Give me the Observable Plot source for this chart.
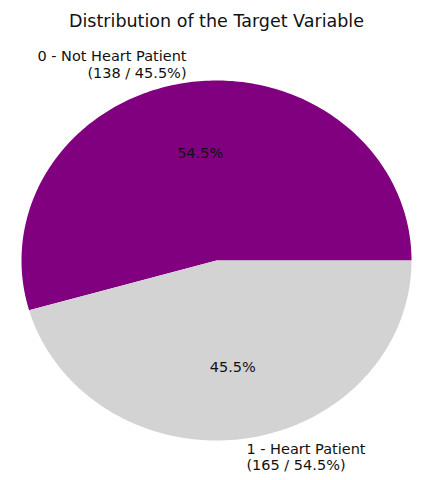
<!DOCTYPE html>
<html>
<head>
<meta charset="utf-8">
<script src="https://cdn.jsdelivr.net/npm/d3@7"></script>
<script src="https://cdn.jsdelivr.net/npm/@observablehq/plot@0.6"></script>
<style>
  html, body { margin: 0; padding: 0; background: #fff; }
  svg { font-family: "DejaVu Sans", sans-serif; }
</style>
</head>
<body>
<div id="chart"></div>
<script>
// Data
const chartTitle = "Distribution of the Target Variable";
const sliceColors = ["#800080", "#d3d3d3"];
const sliceValues = [165, 138];              // drawn wedge sizes (purple, grey)
const labelNames = ["0 - Not Heart Patient", "1 - Heart Patient"];
const labelCounts = [138, 165];               // counts shown in the outer labels

const total = d3.sum(sliceValues);
const labelTotal = d3.sum(labelCounts);

// Wedge angles (counter-clockwise from 3 o'clock, like matplotlib)
let acc = 0;
const slices = sliceValues.map((v, i) => {
  const a0 = acc / total * 2 * Math.PI;
  acc += v;
  const a1 = acc / total * 2 * Math.PI;
  return {i, v, a0, a1, mid: (a0 + a1) / 2};
});

const pts = [];
for (const s of slices) {
  pts.push({i: s.i, x: 0, y: 0});
  const n = 200;
  for (let k = 0; k <= n; k++) {
    const a = s.a0 + (s.a1 - s.a0) * k / n;
    pts.push({i: s.i, x: Math.cos(a), y: Math.sin(a)});
  }
  pts.push({i: s.i, x: 0, y: 0});
}

const pctTexts = slices.map(s => ({
  x: 0.6 * Math.cos(s.mid), y: 0.6 * Math.sin(s.mid),
  t: (s.v / total * 100).toFixed(1) + "%"
}));

const outer = slices.map(s => ({
  x: 1.1 * Math.cos(s.mid), y: 1.1 * Math.sin(s.mid),
  t: `${labelNames[s.i]}\n(${labelCounts[s.i]} / ${(labelCounts[s.i] / labelTotal * 100).toFixed(1)}%)`,
  anchor: Math.cos(s.mid) < 0 ? "end" : "start"
}));

const chart = Plot.plot({
  width: 422,
  height: 480,
  margin: 0,
  x: {domain: [-1, 1], range: [21, 411], axis: null},
  y: {domain: [-1, 1], range: [440, 80], axis: null},
  color: {domain: [0, 1], range: sliceColors},
  marks: [
    Plot.line(pts, {x: "x", y: "y", z: "i", fill: d => sliceColors[d.i], stroke: null, curve: "linear"}),
    Plot.text(pctTexts, {x: "x", y: "y", text: "t", fontSize: 14.5, fill: "#111"}),
    Plot.text(outer.filter(d => d.anchor === "end"), {x: "x", y: "y", text: "t", textAnchor: "end", fontSize: 14.5, lineHeight: 1.15, fill: "#111"}),
    Plot.text(outer.filter(d => d.anchor === "start"), {x: "x", y: "y", text: "t", textAnchor: "start", fontSize: 14.5, lineHeight: 1.15, fill: "#111"}),
    Plot.text([chartTitle], {frameAnchor: "top", dx: 5, dy: 21, text: d => d, fontSize: 17.5, lineAnchor: "middle", fill: "#111"})
  ]
});
document.getElementById("chart").appendChild(chart);
</script>
</body>
</html>
